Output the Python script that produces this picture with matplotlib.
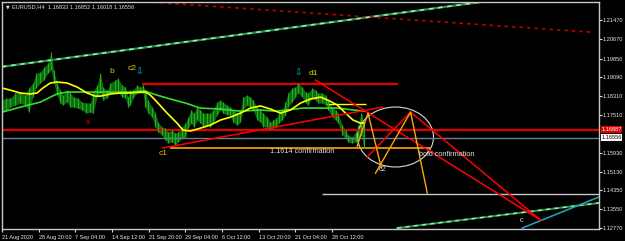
import matplotlib
matplotlib.use("Agg")
import matplotlib.pyplot as plt
from matplotlib.patches import Ellipse

plt.rcParams["font.family"] = ["Liberation Sans", "DejaVu Sans"]

# ---------------- data ----------------
x_tick_bars = [0, 44, 88, 132, 176, 220, 264, 308, 352, 396]
x_tick_labels = ["21 Aug 2020", "28 Aug 20:00", "7 Sep 04:00", "14 Sep 12:00",
                 "21 Sep 20:00", "29 Sep 04:00", "6 Oct 12:00", "13 Oct 20:00",
                 "21 Oct 04:00", "28 Oct 12:00"]
y_tick_vals = [1.21470, 1.20670, 1.19850, 1.19090, 1.18310, 1.17510,
               1.15930, 1.15130, 1.14350, 1.13550, 1.12770]

price_bar = [0, 5, 10, 16, 22, 28, 32, 37, 41, 46, 50, 55, 59, 62, 66, 70, 73, 78, 82, 86,
             91, 96, 101, 106, 109, 114, 118, 121, 126, 130, 136, 139, 144, 148, 151, 154,
             157, 162, 166, 169, 172, 175, 180, 184, 187, 192, 196, 199, 204, 208, 211, 216,
             220, 223, 227, 230, 234, 238, 241, 246, 250, 253, 258, 262, 265, 270, 274, 277,
             282, 286, 289, 294, 298, 301, 306, 310, 313, 318, 322, 325, 329, 332, 336, 340,
             343, 348, 352, 355, 360, 364, 367, 372, 376, 379, 384, 388, 391, 396, 400, 403,
             408, 412, 415, 420, 424, 427, 431, 434]
price_high = [1.1812, 1.1821, 1.1821, 1.1842, 1.1846, 1.1833, 1.1863, 1.1884, 1.1925, 1.1929,
              1.1950, 1.1967, 1.2013, 1.1938, 1.1884, 1.1854, 1.1833, 1.1854, 1.1842, 1.1825,
              1.1821, 1.1804, 1.1800, 1.1800, 1.1846, 1.1875, 1.1925, 1.1867, 1.1854, 1.1884,
              1.1896, 1.1904, 1.1875, 1.1867, 1.1825, 1.1854, 1.1854, 1.1875, 1.1867, 1.1875,
              1.1854, 1.1812, 1.1783, 1.1758, 1.1720, 1.1700, 1.1695, 1.1679, 1.1687, 1.1674,
              1.1679, 1.1700, 1.1716, 1.1741, 1.1771, 1.1758, 1.1783, 1.1771, 1.1758, 1.1758,
              1.1758, 1.1771, 1.1804, 1.1812, 1.1804, 1.1792, 1.1783, 1.1771, 1.1758, 1.1771,
              1.1825, 1.1833, 1.1825, 1.1812, 1.1783, 1.1771, 1.1758, 1.1741, 1.1720, 1.1729,
              1.1737, 1.1758, 1.1771, 1.1804, 1.1842, 1.1863, 1.1867, 1.1884, 1.1867, 1.1846,
              1.1842, 1.1863, 1.1854, 1.1842, 1.1842, 1.1833, 1.1812, 1.1783, 1.1771, 1.1758,
              1.1708, 1.1687, 1.1666, 1.1658, 1.1679, 1.1708, 1.1758, 1.1720]
price_low = [1.1762, 1.1771, 1.1783, 1.1792, 1.1800, 1.1792, 1.1762, 1.1825, 1.1863, 1.1884,
             1.1896, 1.1925, 1.1938, 1.1884, 1.1833, 1.1800, 1.1792, 1.1804, 1.1783, 1.1783,
             1.1779, 1.1771, 1.1758, 1.1762, 1.1758, 1.1825, 1.1842, 1.1812, 1.1821, 1.1842,
             1.1854, 1.1846, 1.1825, 1.1821, 1.1783, 1.1792, 1.1821, 1.1842, 1.1842, 1.1842,
             1.1783, 1.1758, 1.1741, 1.1700, 1.1679, 1.1666, 1.1645, 1.1633, 1.1637, 1.1624,
             1.1637, 1.1653, 1.1658, 1.1695, 1.1716, 1.1700, 1.1729, 1.1716, 1.1700, 1.1708,
             1.1700, 1.1716, 1.1750, 1.1771, 1.1758, 1.1750, 1.1750, 1.1720, 1.1708, 1.1720,
             1.1771, 1.1792, 1.1783, 1.1771, 1.1729, 1.1720, 1.1700, 1.1700, 1.1687, 1.1695,
             1.1700, 1.1716, 1.1729, 1.1750, 1.1783, 1.1804, 1.1825, 1.1842, 1.1825, 1.1800,
             1.1792, 1.1821, 1.1812, 1.1800, 1.1800, 1.1792, 1.1771, 1.1741, 1.1729, 1.1716,
             1.1666, 1.1653, 1.1637, 1.1633, 1.1637, 1.1645, 1.1666, 1.1612]

ma_fast_bar = [0, 10, 22, 34, 42, 49, 58, 66, 78, 90, 102, 112, 118, 130, 142, 154, 166, 172,
               178, 186, 198, 210, 217, 226, 238, 250, 262, 274, 286, 298, 310, 322, 334, 346,
               358, 370, 382, 391, 402, 412, 421, 430, 434]
ma_fast = [1.1863, 1.1854, 1.1842, 1.1838, 1.1842, 1.1863, 1.1884, 1.1888, 1.1884, 1.1867,
           1.1842, 1.1829, 1.1829, 1.1838, 1.1842, 1.1842, 1.1846, 1.1846, 1.1833, 1.1804,
           1.1758, 1.1716, 1.1687, 1.1683, 1.1695, 1.1708, 1.1729, 1.1741, 1.1758, 1.1779,
           1.1788, 1.1775, 1.1758, 1.1771, 1.1800, 1.1817, 1.1825, 1.1812, 1.1792, 1.1758,
           1.1729, 1.1716, 1.1716]

ma_slow_bar = [0, 22, 46, 58, 66, 78, 94, 112, 130, 154, 172, 186, 202, 220, 238, 262, 286,
               310, 329, 361, 402, 434]
ma_slow = [1.1762, 1.1783, 1.1804, 1.1825, 1.1838, 1.1846, 1.1846, 1.1846, 1.1846, 1.1846,
           1.1850, 1.1833, 1.1817, 1.1800, 1.1779, 1.1775, 1.1766, 1.1771, 1.1766, 1.1779,
           1.1779, 1.1766]

level_red = 1.16887
level_bid = 1.16556
resist_price = 1.1879
confirm_price = 1.1614
yellow_level = 1.1796
white_level = 1.1419

upper_channel = ([0, 583], [1.1952, 1.2227])
lower_channel = ([474, 716], [1.1277, 1.1382])
teal_line = ([624, 716], [1.1277, 1.1407])
red_dotted = ([172, 706], [1.2224, 1.2097])
red_rise_c1 = ([193, 456], [1.1612, 1.1783])
red_down_d1 = ([376, 646], [1.1896, 1.1310])
red_down_2 = ([490, 646], [1.1762, 1.1310])
red_up_c2 = ([438, 490], [1.1574, 1.1762])
orange_zig_a = ([426, 439, 455], [1.1620, 1.1758, 1.1528])
orange_zig_b = ([448, 490, 510], [1.1507, 1.1762, 1.1424])

# ---------------- figure ----------------
W, H = 625, 241
YMIN, YMAX = 1.1273, 1.2225
fig = plt.figure(figsize=(W / 100, H / 100), dpi=100, facecolor="black")
ax = fig.add_axes([2 / W, 12 / H, 597 / W, 227.5 / H], facecolor="black")
ax.set_xlim(0, 716)
ax.set_ylim(YMIN, YMAX)

for s in ax.spines.values():
    s.set_color("#c8c8c8")
    s.set_linewidth(1)

# channels
ax.plot(*upper_channel, color="#2e8b57", lw=1.6, solid_capstyle="butt")
ax.plot(*upper_channel, color="#98fb98", lw=1.1, dashes=(3, 3))
ax.plot(*lower_channel, color="#2e8b57", lw=1.5)
ax.plot(*lower_channel, color="#98fb98", lw=1.0, dashes=(3, 3))
ax.plot(*teal_line, color="#1fa0b0", lw=1.2)
ax.plot(*red_dotted, color="#c00000", lw=1.2, ls=(0, (2, 2.5)))

# horizontal levels
ax.axhline(level_red, color="#e00000", lw=1.6)
ax.axhline(level_bid, color="#6a7f8f", lw=1.0)
ax.hlines(white_level, 384, 716, color="#c8c8c8", lw=1.0)
ax.hlines(resist_price, 168, 475, color="#e00000", lw=1.6)
ax.hlines(confirm_price, 202, 514, color="#ffa500", lw=1.2)
ax.hlines(yellow_level, 390, 437, color="#ffff00", lw=1.0)

# price bars
ax.fill_between(price_bar, price_low, price_high, color="#0f6a0f", lw=0)
ax.vlines(price_bar, price_low, price_high, color="#1fb01f", lw=0.8)

# moving averages
ax.plot(ma_slow_bar, ma_slow, color="#33dd33", lw=1.2)
ax.plot(ma_fast_bar, ma_fast, color="#ffff00", lw=1.2)

# trend lines
for ln in (red_rise_c1, red_down_d1, red_down_2, red_up_c2):
    ax.plot(*ln, color="#ff0000", lw=1.1)
ax.plot(*orange_zig_a, color="#ffa500", lw=1.0)
ax.plot(*orange_zig_b, color="#ffa500", lw=1.0)

ax.add_patch(Ellipse((472, 1.1658), 91, 0.0251, fill=False, ec="#d8d8d8", lw=0.8))

# labels
fs = 5.3
ax.text(132, 1.1934, "b", color="#cccc00", fontsize=6, ha="center", va="center")
ax.text(156, 1.1946, "c2", color="#dddd00", fontsize=6, ha="center", va="center")
ax.text(164, 1.1929, "\u21e9", color="#00bfe0", fontsize=6.5, ha="center", va="center",
        family="DejaVu Sans")
ax.text(355, 1.1925, "\u21e9", color="#00bfe0", fontsize=6.5, ha="center", va="center",
        family="DejaVu Sans")
ax.text(373, 1.1925, "d1", color="#dddd00", fontsize=6, ha="center", va="center")
ax.text(103, 1.1720, "a", color="#dd0000", fontsize=5, ha="center", va="center")
ax.text(193, 1.1591, "c1", color="#ffbb00", fontsize=6, ha="center", va="center")
ax.text(360, 1.1599, "1.1614 confirmation", color="#e0e0e0", fontsize=fs, ha="center", va="center")
ax.text(457, 1.1520, "c2", color="#e0e0e0", fontsize=fs, ha="center", va="center")
ax.text(533, 1.1586, "bold confirmation", color="#e0e0e0", fontsize=fs, ha="center", va="center")
ax.text(623, 1.1310, "c", color="#e8e8e8", fontsize=fs, ha="center", va="center")
ax.text(5, 1.2204, "\u25bc", color="#e0e0e0", fontsize=3.5, ha="left", va="center",
        family="DejaVu Sans")
ax.text(12, 1.2204, "EURUSD,H4  1.16833 1.16852 1.16018 1.16556", color="#e0e0e0",
        fontsize=4.1, ha="left", va="center")

# axes ticks
ax.yaxis.tick_right()
ax.set_yticks(y_tick_vals)
ax.set_yticklabels([f"{v:.5f}" for v in y_tick_vals])
ax.tick_params(axis="y", colors="#e0e0e0", labelsize=4.1, length=2.0, width=0.8, pad=0.8,
               labelcolor="#e8e8e8")
ax.set_xticks(x_tick_bars)
ax.set_xticklabels(x_tick_labels)
ax.tick_params(axis="x", colors="#e0e0e0", labelsize=4.0, length=2.5, width=0.8, pad=1.5,
               labelcolor="#e8e8e8")
for lbl in ax.get_xticklabels():
    lbl.set_ha("left")

# right-side price tags
for val, fc, tc in ((level_red, "#e00000", "white"), (level_bid, "white", "black")):
    ax.text(1.004, (val - YMIN) / (YMAX - YMIN), f"{val:.5f}", transform=ax.transAxes,
            color=tc, fontsize=4.1, ha="left", va="center",
            bbox=dict(boxstyle="square,pad=0.12", fc=fc, ec="none"))

fig.savefig("out.png", dpi=100, facecolor="black")
